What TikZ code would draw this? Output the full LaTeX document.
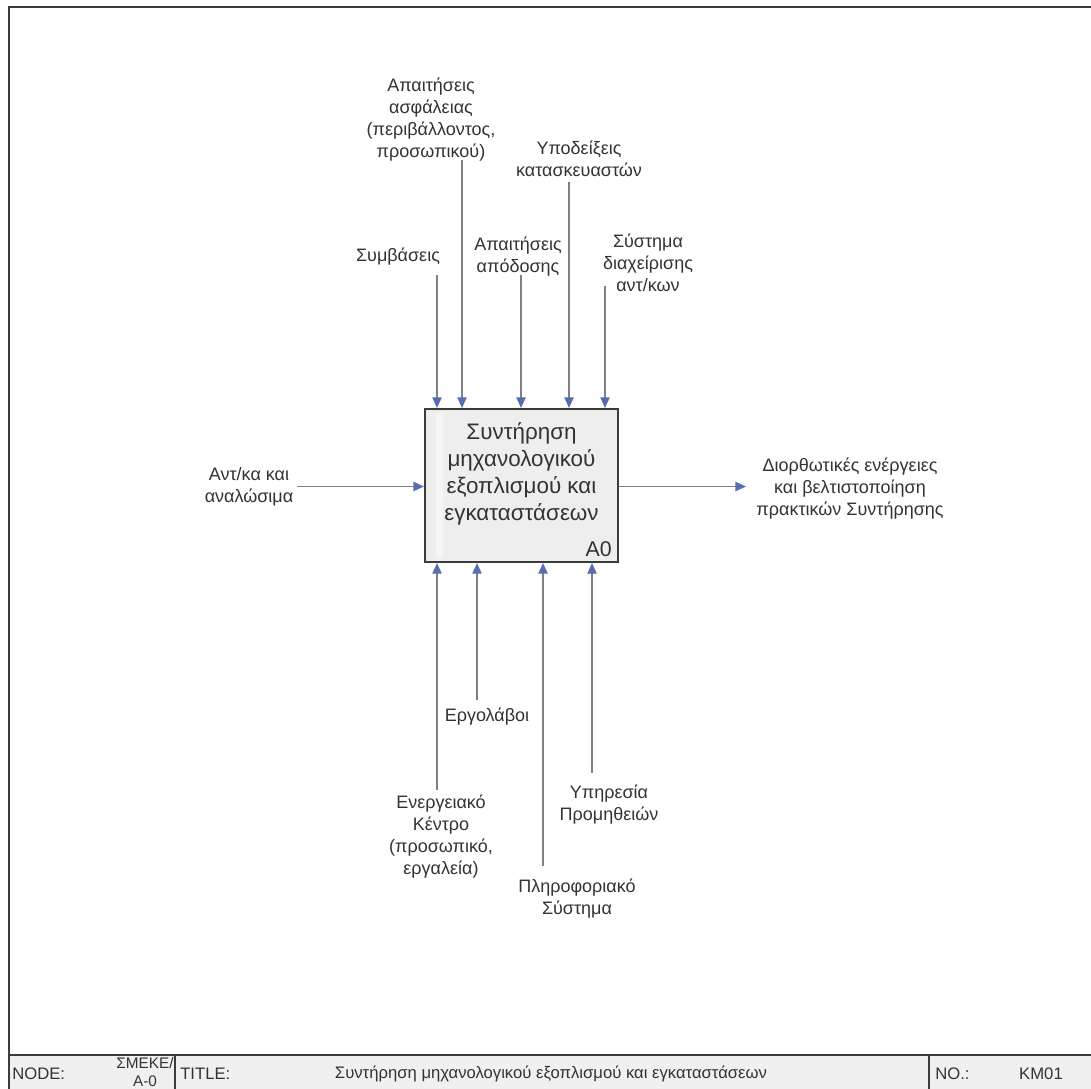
\documentclass[tikz,border=0pt]{standalone}
\usepackage{fontspec}
\setmainfont{Liberation Sans}
\usetikzlibrary{arrows.meta}
\definecolor{linegray}{RGB}{128,128,132}
\definecolor{tipblue}{RGB}{88,108,176}
\definecolor{boxfill}{RGB}{238,238,238}
\definecolor{framegray}{RGB}{60,60,60}
\begin{document}
\begin{tikzpicture}[x=0.75pt,y=-0.75pt,
  flow/.style={draw=linegray,line width=1.1pt,
    -{Triangle[length=8pt,width=7pt,color=tipblue,fill=tipblue]}},
  lbl/.style={align=center,font=\fontsize{13.5}{16.5}\selectfont,text=black!80,inner sep=0pt},
  bar/.style={font=\fontsize{12.5}{13.5}\selectfont,text=black!80,inner sep=0pt},
  activity/.style={draw=framegray,line width=1.6pt,fill=boxfill,minimum width=193*0.75pt,
    minimum height=153*0.75pt,inner sep=0pt}]
\useasboundingbox (0,0) rectangle (1091,1088);
\fill[white] (0,0) rectangle (1091,1088);

% sheet frame and title block
\fill[black!6] (9,1055) rectangle (1095,1095);
\draw[framegray,line width=1.8pt] (9,1095) -- (9,7) -- (1095,7);
\draw[framegray,line width=1.6pt] (9,1055) -- (1095,1055);
\draw[framegray,line width=1.2pt] (175,1055) -- (175,1095);
\draw[framegray,line width=1.2pt] (929,1055) -- (929,1095);
\node[bar,anchor=west] (nodelbl) at (12,1074) {NODE:};
\node[bar,align=center,font=\fontsize{11.5}{13.5}\selectfont] (nodeid) at (145,1072) {ΣΜΕΚΕ/\\Α-0};
\node[bar,anchor=west] (titlelbl) at (180,1074) {TITLE:};
\node[bar] (titletxt) at (551,1074) {Συντήρηση μηχανολογικού εξοπλισμού και εγκαταστάσεων};
\node[bar,anchor=west] (nolbl) at (935,1074) {NO.:};
\node[bar] (notxt) at (1041,1074) {KM01};

% activity box
\node[activity] (a0) at (521.5,485.5) {};
\fill[white,opacity=0.45] (436,413) rectangle (443,557);
\node[lbl,font=\fontsize{16.8}{20.2}\selectfont] (a0txt) at (521.5,474)
  {Συντήρηση\\μηχανολογικού\\εξοπλισμού και\\εγκαταστάσεων};
\node[lbl,font=\fontsize{16}{18}\selectfont,anchor=south east] (a0num) at (612,557) {Α0};

% controls (top)
\node[lbl] (c1) at (398,257) {Συμβάσεις};
\node[lbl] (c2) at (431,120) {Απαιτήσεις\\ασφάλειας\\(περιβάλλοντος,\\προσωπικού)};
\node[lbl] (c3) at (518,257) {Απαιτήσεις\\απόδοσης};
\node[lbl] (c4) at (579,159) {Υποδείξεις\\κατασκευαστών};
\node[lbl] (c5) at (648,263) {Σύστημα\\διαχείρισης\\αντ/κων};
\coordinate (c1s) at (437,275);
\coordinate (c2s) at (462,160);
\coordinate (c3s) at (521,275);
\coordinate (c4s) at (569,182);
\coordinate (c5s) at (605,286);
\draw[flow] (c1s) -- (c1s |- a0.north);
\draw[flow] (c2s) -- (c2s |- a0.north);
\draw[flow] (c3s) -- (c3s |- a0.north);
\draw[flow] (c4s) -- (c4s |- a0.north);
\draw[flow] (c5s) -- (c5s |- a0.north);

% input and output
\node[lbl] (in1) at (249,487) {Αντ/κα και\\αναλώσιμα};
\draw[flow] (297,486.5) -- (a0.west |- 0,486.5);
\node[lbl] (out1) at (850,489) {Διορθωτικές ενέργειες\\και βελτιστοποίηση\\πρακτικών Συντήρησης};
\coordinate (out1e) at (746,486.5);
\draw[flow] (a0.east |- out1e) -- (out1e);

% mechanisms (bottom)
\node[lbl] (m1) at (441,837) {Ενεργειακό\\Κέντρο\\(προσωπικό,\\εργαλεία)};
\node[lbl] (m2) at (487,717) {Εργολάβοι};
\node[lbl] (m3) at (577,899) {Πληροφοριακό\\Σύστημα};
\node[lbl] (m4) at (609,805) {Υπηρεσία\\Προμηθειών};
\coordinate (m1s) at (437,790);
\coordinate (m2s) at (477,700);
\coordinate (m3s) at (543,866);
\coordinate (m4s) at (592,773);
\draw[flow] (m1s) -- (m1s |- a0.south);
\draw[flow] (m2s) -- (m2s |- a0.south);
\draw[flow] (m3s) -- (m3s |- a0.south);
\draw[flow] (m4s) -- (m4s |- a0.south);
\end{tikzpicture}
\end{document}
